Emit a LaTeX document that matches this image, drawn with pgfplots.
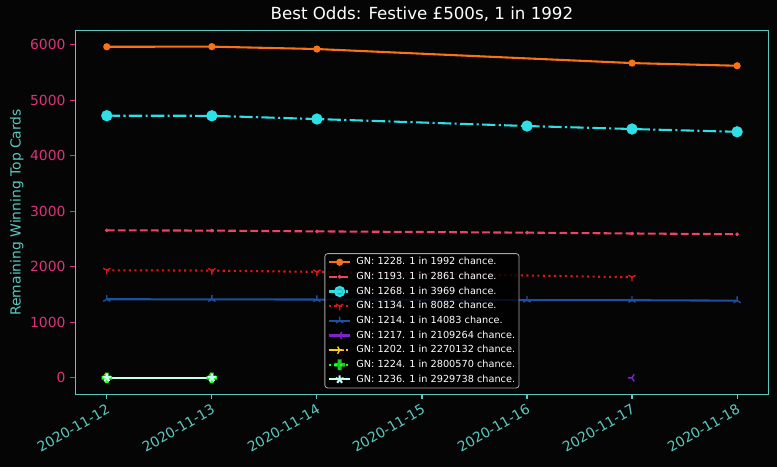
\documentclass[border=0pt]{standalone}
\usepackage{fontspec}
\setmainfont{DejaVu Sans}
\usepackage{pgfplots}
\pgfplotsset{compat=1.18}
\usetikzlibrary{plotmarks}
\definecolor{bg}{HTML}{050505}
\definecolor{spine}{HTML}{5CC8BE}
\definecolor{ytk}{HTML}{DC3278}
\definecolor{c1228}{HTML}{F97316}
\definecolor{c1193}{HTML}{EE4266}
\definecolor{c1268}{HTML}{2EE0E6}
\definecolor{c1134}{HTML}{E01515}
\definecolor{c1214}{HTML}{1E4FA0}
\definecolor{c1217}{HTML}{7E22CE}
\definecolor{c1202}{HTML}{FACC15}
\definecolor{c1224}{HTML}{22FF22}
\definecolor{c1236}{HTML}{C8FFF0}
\pgfdeclareplotmark{Pfill}{%
  \pgfpathrectangle{\pgfpoint{-\pgfplotmarksize}{-0.36\pgfplotmarksize}}{\pgfpoint{2\pgfplotmarksize}{0.72\pgfplotmarksize}}%
  \pgfpathrectangle{\pgfpoint{-0.36\pgfplotmarksize}{-\pgfplotmarksize}}{\pgfpoint{0.72\pgfplotmarksize}{2\pgfplotmarksize}}%
  \pgfusepathqfill}
\begin{document}
\begin{tikzpicture}
\fill[bg] (0,0) rectangle (559.44pt,336.24pt);
\begin{axis}[
  at={(54.2pt,52.3pt)}, anchor=south west,
  scale only axis, width=499.2pt, height=262.1pt,
  xmin=-0.3, xmax=6.3, ymin=-298, ymax=6260,
  axis line style={spine, line width=0.8pt},
  tick align=outside, major tick length=3.5pt,
  xtick pos=bottom, ytick pos=left,
  xtick={0,1,2,3,4,5,6},
  xticklabels={2020-11-12,2020-11-13,2020-11-14,2020-11-15,2020-11-16,2020-11-17,2020-11-18},
  ytick={0,1000,2000,3000,4000,5000,6000},
  xtick style={spine, line width=0.8pt},
  ytick style={ytk, line width=0.8pt},
  xticklabel style={text=spine, rotate=30, anchor=north east, font=\fontsize{10}{12}\selectfont, inner sep=2pt},
  yticklabel style={text=ytk, font=\fontsize{10}{12}\selectfont},
  /pgf/number format/assume math mode=true,
  /pgf/number format/1000 sep={},
  scaled y ticks=false,
  ylabel={Remaining Winning Top Cards},
  ylabel style={text=spine, font=\fontsize{10}{12}\selectfont, xshift=0pt, yshift=-2pt},
  title={Best Odds: Festive £500s, 1 in 1992},
  title style={text=white, font=\fontsize{12}{14}\selectfont, at={(0.5,1)}, anchor=south, inner sep=0pt, yshift=0.5pt},
  legend cell align=left,
  legend image code/.code={\draw[mark repeat=2,mark phase=2] plot coordinates {(0cm,0cm) (0.27cm,0cm) (0.54cm,0cm)};},
  legend style={at={(0.5,0)}, anchor=south, yshift=4.3pt,
    fill=black, fill opacity=0.8, text opacity=1, draw=gray!70!white, line width=0.6pt,
    rounded corners=2pt, text=white, font=\fontsize{7}{8}\selectfont,
    row sep=2.65pt, inner sep=2.2pt,
    nodes={inner sep=0.6pt, text height=5.3pt, text depth=1.4pt},
    /tikz/every odd column/.append style={column sep=3pt}},
  every axis plot/.append style={line width=1.5pt},
]
\addplot[c1228, mark=*, mark size=1.8pt] coordinates {(0,5964) (1,5966) (2,5923) (5,5670) (6,5622)};
\addlegendentry{GN: 1228. 1 in 1992 chance.}
\addplot[c1193, dash pattern=on 5.55pt off 2.4pt, mark=*, mark size=0.4pt, mark options={solid}] coordinates {(0,2657) (1,2652) (2,2638) (4,2615) (5,2600) (6,2587)};
\addlegendentry{GN: 1193. 1 in 2861 chance.}
\addplot[c1268, dash pattern=on 9.6pt off 2.4pt on 1.5pt off 2.4pt, mark=*, mark size=3.3pt, mark options={solid}] coordinates {(0,4722) (1,4720) (2,4662) (4,4536) (5,4482) (6,4432)};
\addlegendentry{GN: 1268. 1 in 3969 chance.}
\addplot[c1134, dash pattern=on 1.5pt off 2.475pt, mark=Mercedes star flipped, mark size=3pt, mark options={solid, line width=1pt}] coordinates {(0,1937) (1,1932) (2,1908) (5,1811)};
\addlegendentry{GN: 1134. 1 in 8082 chance.}
\addplot[c1214, mark=Mercedes star, mark size=3pt, mark options={line width=1pt}] coordinates {(0,1415) (1,1414) (2,1410) (4,1400) (5,1398) (6,1390)};
\addlegendentry{GN: 1214. 1 in 14083 chance.}
\addplot[c1217, mark=Mercedes star, mark size=3pt, mark options={rotate=90, line width=1pt}] coordinates {(5,0)};
\addlegendentry{GN: 1217. 1 in 2109264 chance.}
\addplot[c1202, dash pattern=on 9.6pt off 2.4pt on 1.5pt off 2.4pt, mark=Mercedes star, mark size=3pt, mark options={solid, rotate=-90, line width=1pt}] coordinates {(0,0) (1,0)};
\addlegendentry{GN: 1202. 1 in 2270132 chance.}
\addplot[c1224, dash pattern=on 1.5pt off 2.475pt, mark=Pfill, mark size=3.8pt, mark options={solid}] coordinates {(0,0) (1,0)};
\addlegendentry{GN: 1224. 1 in 2800570 chance.}
\addplot[c1236, mark=star, mark size=3pt, mark options={fill=c1236}] coordinates {(0,0) (1,0)};
\addlegendentry{GN: 1236. 1 in 2929738 chance.}
\end{axis}
\end{tikzpicture}
\end{document}
